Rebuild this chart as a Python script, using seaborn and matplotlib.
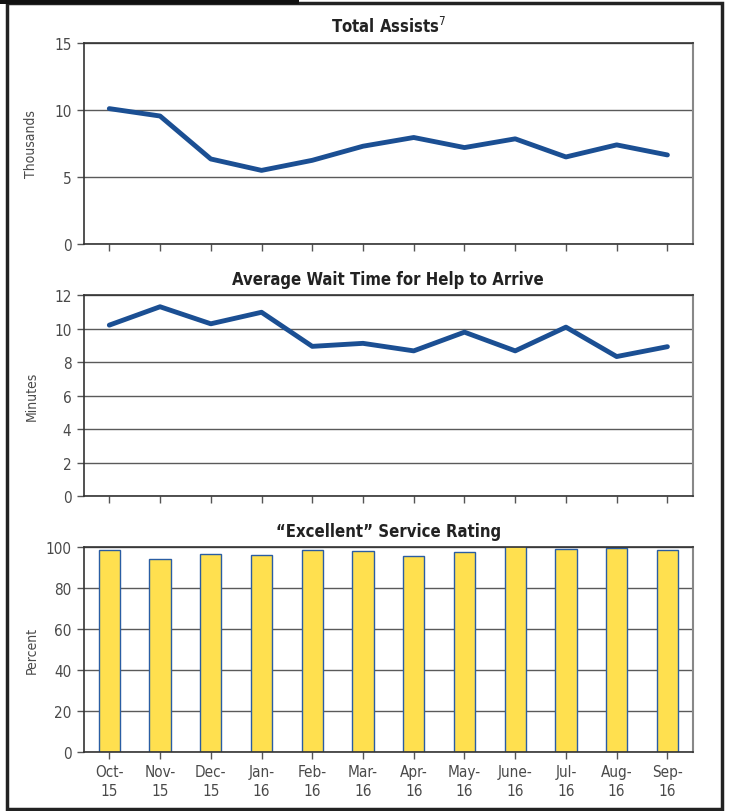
import seaborn as sns
import matplotlib.pyplot as plt
import matplotlib.patches as mpatches
import pandas as pd

months = ['Oct-\n15', 'Nov-\n15', 'Dec-\n15', 'Jan-\n16', 'Feb-\n16', 'Mar-\n16',
          'Apr-\n16', 'May-\n16', 'June-\n16', 'Jul-\n16', 'Aug-\n16', 'Sep-\n16']
assists = [10.1, 9.55, 6.35, 5.5, 6.25, 7.3, 7.95, 7.2, 7.85, 6.5, 7.4, 6.65]
wait_time = [10.22, 11.32, 10.3, 10.99, 8.95, 9.13, 8.68, 9.8, 8.68, 10.1, 8.34, 8.93]
rating = [98.5, 94.3, 96.6, 96.3, 98.5, 98.0, 95.5, 97.6, 100.3, 99.0, 99.4, 98.5]

sns.set_style('white')
plt.rcParams['font.family'] = ['DejaVu Sans']
plt.rcParams['font.stretch'] = 'condensed'

line_color = '#1b4f93'
bar_color = '#ffe04f'
bar_edge = '#2a5da3'
tick_color = '#4a4a4a'

fig = plt.figure(figsize=(7.3, 8.12), dpi=100)
ax1 = fig.add_axes([0.115, 0.698, 0.834, 0.248])
ax2 = fig.add_axes([0.115, 0.388, 0.834, 0.247])
ax3 = fig.add_axes([0.115, 0.0727, 0.834, 0.2523])

df = pd.DataFrame({'pos': range(len(months)), 'month': months,
                   'assists': assists, 'wait': wait_time, 'rating': rating})

sns.lineplot(x='pos', y='assists', data=df, ax=ax1, color=line_color, lw=3.5,
             solid_capstyle='round', solid_joinstyle='round')
sns.lineplot(x='pos', y='wait', data=df, ax=ax2, color=line_color, lw=3.5,
             solid_capstyle='round', solid_joinstyle='round')
sns.barplot(x='month', y='rating', data=df, ax=ax3, color=bar_color,
            edgecolor=bar_edge, linewidth=1, width=0.42, saturation=1)

def style_axis(ax, ymax, step, ylabel, title):
    ax.set_xlim(-0.5, len(months) - 0.5)
    ax.set_ylim(0, ymax)
    ax.set_yticks(range(0, ymax + 1, step))
    ax.set_xticks(range(len(months)))
    ax.set_xlabel('')
    ax.set_ylabel(ylabel, fontsize=10, color=tick_color)
    ax.yaxis.set_label_coords(-0.075, 0.5)
    ax.grid(axis='y', color='#5a5a5a', lw=1)
    ax.set_axisbelow(True)
    for side in ['left', 'bottom', 'top']:
        ax.spines[side].set_color('#333333')
        ax.spines[side].set_linewidth(1.2)
    ax.spines['right'].set_color('#888888')
    ax.spines['right'].set_linewidth(1.5)
    ax.tick_params(axis='both', direction='out', length=5, width=1, bottom=True, left=True,
                   color='#555555', labelcolor=tick_color, labelsize=11)
    ax.tick_params(axis='y', pad=4)
    ax.set_title(title, fontsize=12, fontweight='bold', color='#222222', pad=8)

style_axis(ax1, 15, 5, 'Thousands', 'Total Assists')
style_axis(ax2, 12, 2, 'Minutes', 'Average Wait Time for Help to Arrive')
style_axis(ax3, 100, 20, 'Percent', '\u201cExcellent\u201d Service Rating')
ax1.set_title('Total Assists$^{7}$', fontsize=12, fontweight='bold', color='#222222', pad=8)
ax1.tick_params(axis='x', labelbottom=False)
ax2.tick_params(axis='x', labelbottom=False)
ax3.set_xticks(range(len(months)))
ax3.set_xticklabels(months, fontsize=11, linespacing=1.35)

# outer frame
fig.patches.append(mpatches.Rectangle((0.009, 0.003), 0.98, 0.992, transform=fig.transFigure,
                                      fill=False, edgecolor='#222222', lw=2.5))
fig.patches.append(mpatches.Rectangle((0.0, 0.994), 0.41, 0.006, transform=fig.transFigure,
                                      color='#111111', lw=0))

fig.savefig('out.png', dpi=100)
plt.close()
